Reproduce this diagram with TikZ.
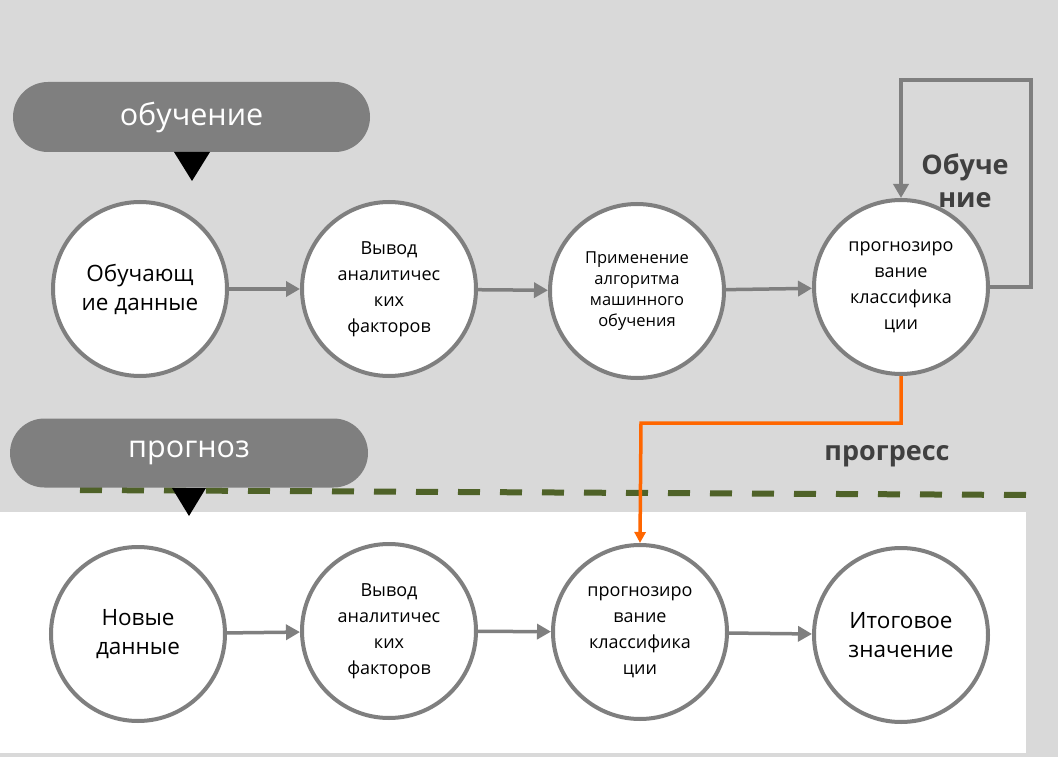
\documentclass[tikz,border=0pt]{standalone}
\usepackage{fontspec}
\setmainfont{Open Sans}
\usetikzlibrary{arrows.meta,shapes.misc}
\definecolor{bggray}{HTML}{D9D9D9}
\definecolor{midgray}{HTML}{7F7F7F}
\definecolor{darktxt}{HTML}{404040}
\definecolor{olive}{HTML}{4F6228}
\definecolor{orangeln}{HTML}{FF6600}
\tikzset{
  stage/.style={circle,draw=midgray,line width=4pt,fill=white,inner sep=0pt,
    minimum size=174pt,align=center,text=black},
  pill/.style={rounded rectangle,fill=midgray,text=white,inner sep=0pt,
    font=\fontsize{30.5}{34}\selectfont},
  arr/.style={draw=midgray,line width=3.5pt,-{Triangle[length=14pt,width=15pt]}},
  oarr/.style={draw=orangeln,line width=3.5pt,-{Triangle[length=11pt,width=11pt]}},
  tri/.style={fill=black},
  bold/.style={font=\bfseries\fontsize{27}{33}\selectfont,text=darktxt,align=center}
}
\begin{document}
\begin{tikzpicture}[x=1pt,y=-1pt]
\useasboundingbox (0,0) rectangle (1058,757);
\fill[bggray] (0,0) rectangle (1058,757);
\fill[white] (0,512) rectangle (1026,753);
% dashed divider
\coordinate (dl) at (80,490);
\coordinate (dr) at (1030,495);
\draw[olive,line width=6pt,dash pattern=on 22pt off 20pt] (dl) -- (dr);
% pills
\node[pill,minimum width=357pt,minimum height=70pt] (p1) at (191.5,117) {обучение};
\node[pill,minimum width=358pt,minimum height=69pt] (p2) at (189,453) {прогноз};
\fill[tri] (174,152) -- (210,152) -- (192,181) -- cycle;
\fill[tri] (172,488) -- (206,488) -- (189,516) -- cycle;
% top row
\node[stage,font=\fontsize{22.5}{29}\selectfont] (c1) at (140,289) {Обучающ\\ие данные};
\node[stage,font=\fontsize{18}{26}\selectfont] (c2) at (389,289) {Вывод\\аналитичес\\ких\\факторов};
\node[stage,font=\fontsize{16.5}{21}\selectfont] (c3) at (637,291) {Применение\\алгоритма\\машинного\\обучения};
\node[stage,font=\fontsize{18}{26}\selectfont] (c4) at (901,287) {прогнозиро\\вание\\классифика\\ции};
% bottom row
\node[stage,font=\fontsize{22.5}{28.5}\selectfont] (d1) at (138,634) {Новые\\данные};
\node[stage,font=\fontsize{18}{26}\selectfont] (d2) at (389,631) {Вывод\\аналитичес\\ких\\факторов};
\node[stage,font=\fontsize{18}{26}\selectfont] (d3) at (640,632) {прогнозиро\\вание\\классифика\\ции};
\node[stage,font=\fontsize{22.5}{28.5}\selectfont] (d4) at (901,635) {Итоговое\\значение};
% labels
\node[bold] (lb1) at (965,181) {Обуче\\ние};
\node[bold] (lb2) at (887,456) {прогресс};
% arrows top
\draw[arr] (c1) -- (c2);
\draw[arr] (c2) -- (c3);
\draw[arr] (c3) -- (c4);
\coordinate (lr) at (1031,80);
\draw[arr] (c4.east) -| (lr) -| (c4.north);
% arrows bottom
\draw[arr] (d1) -- (d2);
\draw[arr] (d2) -- (d3);
\draw[arr] (d3) -- (d4);
% orange
\coordinate (ob) at (641,423);
\draw[oarr] (c4.south) |- (ob) -- (d3.north);
\end{tikzpicture}
\end{document}
